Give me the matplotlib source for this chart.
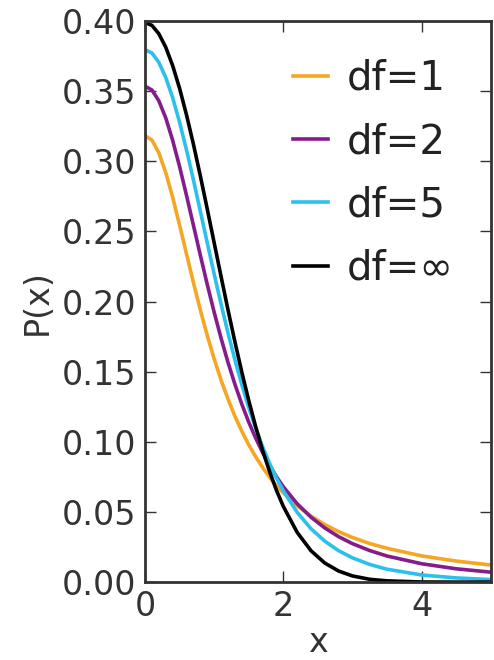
import matplotlib
matplotlib.use("Agg")
import matplotlib.pyplot as plt

# values
x_vals = [0, 0.1, 0.2, 0.3, 0.4, 0.5, 0.6, 0.7, 0.8, 0.9, 1.0, 1.1, 1.2, 1.3, 1.4, 1.5,
          1.6, 1.7, 1.8, 1.9, 2.0, 2.2, 2.4, 2.6, 2.8, 3.0, 3.25, 3.5, 4.0, 4.5, 5.0]
p_df1 = [0.3183, 0.3152, 0.3061, 0.2920, 0.2744, 0.2546, 0.2341, 0.2136, 0.1941, 0.1759,
         0.1592, 0.1440, 0.1305, 0.1183, 0.1076, 0.0979, 0.0894, 0.0818, 0.0749, 0.0688,
         0.0637, 0.0544, 0.0471, 0.0410, 0.0360, 0.0318, 0.0275, 0.0241, 0.0187, 0.0150, 0.0122]
p_df2 = [0.3536, 0.3509, 0.3432, 0.3310, 0.3150, 0.2963, 0.2758, 0.2545, 0.2331, 0.2123,
         0.1925, 0.1739, 0.1567, 0.1411, 0.1269, 0.1141, 0.1027, 0.0925, 0.0834, 0.0752,
         0.0680, 0.0559, 0.0463, 0.0386, 0.0324, 0.0274, 0.0225, 0.0186, 0.0131, 0.0095, 0.0071]
p_df5 = [0.3796, 0.3773, 0.3706, 0.3598, 0.3454, 0.3279, 0.3082, 0.2868, 0.2645, 0.2420,
         0.2197, 0.1982, 0.1777, 0.1585, 0.1407, 0.1245, 0.1098, 0.0966, 0.0848, 0.0743,
         0.0651, 0.0498, 0.0381, 0.0292, 0.0224, 0.0173, 0.0126, 0.0092, 0.0051, 0.0030, 0.0018]
p_norm = [0.3989, 0.3970, 0.3910, 0.3814, 0.3683, 0.3521, 0.3332, 0.3123, 0.2897, 0.2661,
          0.2420, 0.2179, 0.1942, 0.1714, 0.1497, 0.1295, 0.1109, 0.0940, 0.0790, 0.0656,
          0.0540, 0.0355, 0.0224, 0.0136, 0.0079, 0.0044, 0.0020, 0.0009, 0.0001, 0.0, 0.0]
labels = ["df=1", "df=2", "df=5", "df=\u221e"]
colors = ["#f5a623", "#851c8c", "#2cc1ec", "#000000"]
x_ticks = [0, 2, 4]
y_ticks = [0.00, 0.05, 0.10, 0.15, 0.20, 0.25, 0.30, 0.35, 0.40]

fig = plt.figure(figsize=(4.94, 6.6), dpi=100)
ax = fig.add_axes([0.2935, 0.118, 0.70, 0.850])

for series, lab, col in zip([p_df1, p_df2, p_df5, p_norm], labels, colors):
    ax.plot(x_vals, series, color=col, lw=2.6, label=lab, solid_joinstyle="round")

ax.set_xlim(0, 5)
ax.set_ylim(0, 0.40)
ax.set_xticks(x_ticks)
ax.set_yticks(y_ticks)
ax.set_yticklabels([f"{v:.2f}" for v in y_ticks])
ax.tick_params(direction="in", length=8, width=1, top=True, right=True,
               labelsize=24, colors="#333333", labelcolor="#333333", pad=6)
for s in ax.spines.values():
    s.set_linewidth(2)
    s.set_color("#333333")
ax.set_xlabel("x", fontsize=24, color="#333333", labelpad=2)
ax.set_ylabel("P(x)", fontsize=24, color="#333333", labelpad=6)

leg = ax.legend(loc="upper left", bbox_to_anchor=(0.428, 0.933), frameon=False,
                fontsize=29, handlelength=0.87, handletextpad=0.47,
                labelspacing=0.58, borderaxespad=0.0, borderpad=0.0)
for t in leg.get_texts():
    t.set_color("#222222")

fig.savefig("out.png", dpi=100)
